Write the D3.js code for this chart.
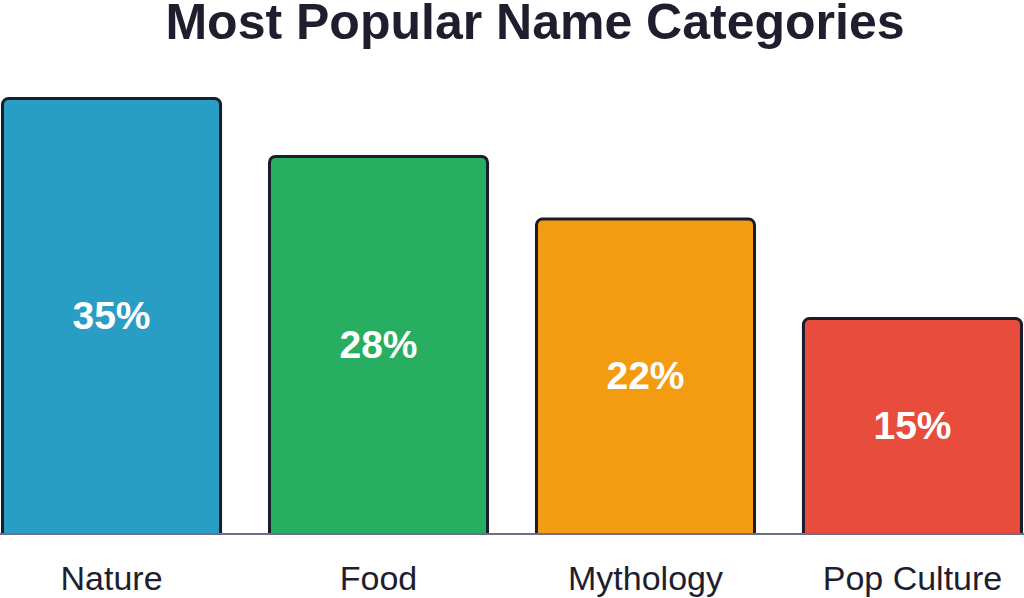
<!DOCTYPE html>
<html>

<head>
    <meta charset="utf-8">
    <style>
        body {
            margin: 0;
            background: white;
        }

        svg {
            display: block;
        }

        .title {
            font-family: "Liberation Sans", Arial, sans-serif;
            font-weight: bold;
            font-size: 50px;
            fill: #1e1e2e;
        }

        .value-label {
            font-family: "Liberation Sans", Arial, sans-serif;
            font-weight: bold;
            font-size: 39px;
            fill: white;
        }

        .x .tick text {
            font-family: "Liberation Sans", Arial, sans-serif;
            font-size: 34px;
            fill: #1e1e2e;
        }

        .x .tick line,
        .x .domain {
            display: none;
        }
    </style>
</head>

<body>
    <svg width="1024" height="598"></svg>
</body>

<script src="https://d3js.org/d3.v7.min.js"></script>

<script>
    // data
    let categories = ["Nature", "Food", "Mythology", "Pop Culture"];
    let shares = [35, 28, 22, 15];
    let colors = ["#2a9dc4", "#27ae60", "#f39c12", "#e74c3c"];

    let width = 1024;
    let height = 598;
    let baseY = 534;

    let svg = d3.select("svg");

    let data = categories.map((c, i) => ({ name: c, value: shares[i], color: colors[i] }));

    let x = d3.scaleBand()
        .domain(categories)
        .range([1, 1023])
        .paddingInner(0.172)
        .paddingOuter(0);

    // bar heights in the picture follow a log-like scale that doesn't start at zero
    let y = d3.scaleLog()
        .domain([6.5, 35])
        .range([baseY, 97]);

    svg.append("text")
        .attr("class", "title")
        .attr("x", 535)
        .attr("y", 39)
        .attr("text-anchor", "middle")
        .text("Most Popular Name Categories");

    svg.append("g")
        .selectAll("rect")
        .data(data)
        .join("rect")
        .attr("x", d => x(d.name) + 1.5)
        .attr("y", d => y(d.value) + 1.5)
        .attr("width", x.bandwidth() - 3)
        .attr("height", d => baseY + 6 - y(d.value) - 1.5)
        .attr("rx", 6)
        .attr("ry", 6)
        .style("fill", d => d.color)
        .style("stroke", "#1a1c2c")
        .style("stroke-width", 3);

    // clean bottom under the baseline
    svg.append("rect")
        .attr("x", 0)
        .attr("y", baseY + 1)
        .attr("width", width)
        .attr("height", 10)
        .style("fill", "white");

    svg.append("line")
        .attr("x1", 0)
        .attr("x2", width)
        .attr("y1", baseY)
        .attr("y2", baseY)
        .style("stroke", "#6e6e86")
        .style("stroke-width", 2);

    svg.append("g")
        .selectAll("text")
        .data(data)
        .join("text")
        .attr("class", "value-label")
        .attr("x", d => x(d.name) + x.bandwidth() / 2)
        .attr("y", d => (y(d.value) + baseY) / 2)
        .attr("dy", "0.35em")
        .attr("text-anchor", "middle")
        .text(d => d.value + "%");

    let xAxis = d3.axisBottom(x)
        .tickSize(0)
        .tickPadding(56);

    svg.append("g")
        .attr("class", "x axis")
        .attr("transform", `translate(0,${baseY})`)
        .call(xAxis)
        .selectAll("text")
        .attr("dy", 0);
</script>

</html>
